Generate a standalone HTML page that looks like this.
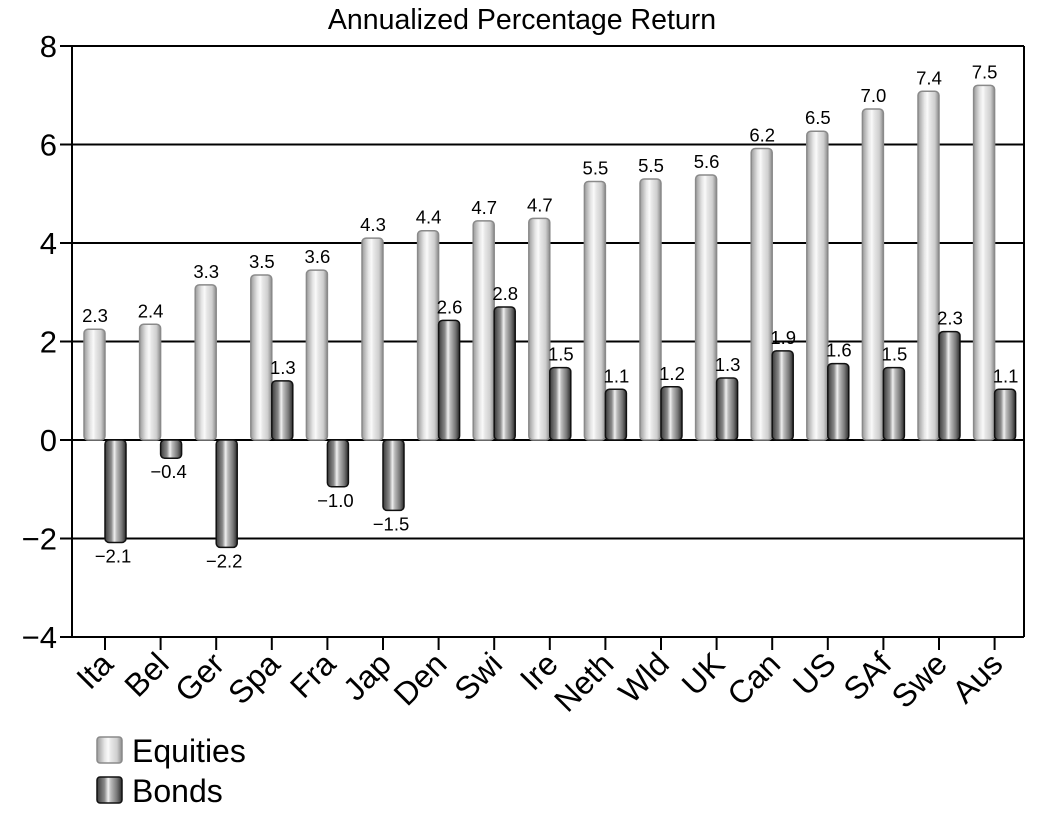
<!DOCTYPE html>
<html><head><meta charset="utf-8"><style>
html,body{margin:0;padding:0;background:#fff;}
svg{display:block;font-family:"Liberation Sans",Arial,sans-serif;}
</style></head><body>
<svg id="s" width="1037" height="838" viewBox="0 0 1037 838" xmlns="http://www.w3.org/2000/svg">
<defs>
<linearGradient id="ge" x1="0" x2="1" y1="0" y2="0">
<stop offset="0" stop-color="#9a9a9a"/><stop offset="0.3" stop-color="#e4e4e4"/><stop offset="0.45" stop-color="#fafafa"/><stop offset="0.55" stop-color="#e8e8e8"/><stop offset="0.8" stop-color="#cfcfcf"/><stop offset="1" stop-color="#8a8a8a"/>
</linearGradient>
<linearGradient id="gb" x1="0" x2="1" y1="0" y2="0">
<stop offset="0" stop-color="#3a3a3a"/><stop offset="0.3" stop-color="#8a8a8a"/><stop offset="0.45" stop-color="#f0f0f0"/><stop offset="0.55" stop-color="#bdbdbd"/><stop offset="0.8" stop-color="#777"/><stop offset="1" stop-color="#2a2a2a"/>
</linearGradient>
</defs>
<g id="g"></g>
</svg>
<script>
var g=document.getElementById('g');var h='';
var L=72,R=1024,Z=440,U=49.25;
function Y(v){return Z-v*U;}
h+='<text x="522" y="29" font-size="28.5" text-anchor="middle">Annualized Percentage Return</text>';
[8,6,4,2,0,-2,-4].forEach(function(v){var y=Y(v);
 if(v>-4) h+='<line x1="'+L+'" x2="'+R+'" y1="'+y+'" y2="'+y+'" stroke="#000" stroke-width="2"/>';
 h+='<line x1="60" x2="'+L+'" y1="'+y+'" y2="'+y+'" stroke="#000" stroke-width="2"/>';
 h+='<text x="57" y="'+(y+11)+'" font-size="31" text-anchor="end">'+(v<0?'\u2212'+(-v):v)+'</text>';});
var names=['Ita','Bel','Ger','Spa','Fra','Jap','Den','Swi','Ire','Neth','Wld','UK','Can','US','SAf','Swe','Aus'];
var eq=['2.3','2.4','3.3','3.5','3.6','4.3','4.4','4.7','4.7','5.5','5.5','5.6','6.2','6.5','7.0','7.4','7.5'];
var eh=[2.25,2.35,3.15,3.35,3.45,4.1,4.25,4.45,4.5,5.25,5.3,5.38,5.92,6.27,6.72,7.08,7.2];
var bd=['\u22122.1','\u22120.4','\u22122.2','1.3','\u22121.0','\u22121.5','2.6','2.8','1.5','1.1','1.2','1.3','1.9','1.6','1.5','2.3','1.1'];
var bh=[-2.08,-0.37,-2.18,1.2,-0.95,-1.43,2.43,2.7,1.47,1.03,1.08,1.26,1.81,1.55,1.47,2.2,1.03];
for(var i=0;i<17;i++){var c=105+55.6*i;
 var t=Y(eh[i]);
 h+='<rect x="'+(c-21)+'" y="'+t+'" width="21" height="'+(Z-t)+'" rx="4" fill="url(#ge)" stroke="#8a8a8a" stroke-width="1.5"/>';
 h+='<text x="'+(c-10)+'" y="'+(t-7)+'" font-size="18.5" text-anchor="middle">'+eq[i]+'</text>';
 var b=Y(bh[i]);var y0=Math.min(b,Z),hh=Math.abs(b-Z);
 h+='<rect x="'+c+'" y="'+y0+'" width="21" height="'+hh+'" rx="4" fill="url(#gb)" stroke="#111" stroke-width="1.5"/>';
 if(bh[i]>0) h+='<text x="'+(c+11)+'" y="'+(b-7)+'" font-size="18.5" text-anchor="middle">'+bd[i]+'</text>';
 else h+='<text x="'+(c+8)+'" y="'+(b+20)+'" font-size="18.5" text-anchor="middle">'+bd[i]+'</text>';
 h+='<line x1="'+c+'" x2="'+c+'" y1="637" y2="650" stroke="#000" stroke-width="2"/>';
 h+='<text transform="translate('+(c+10)+',666) rotate(-45)" font-size="32" text-anchor="end">'+names[i]+'</text>';
}
h+='<line x1="'+L+'" x2="'+L+'" y1="'+Y(8)+'" y2="637" stroke="#000" stroke-width="2"/>';
h+='<line x1="'+R+'" x2="'+R+'" y1="'+Y(8)+'" y2="637" stroke="#000" stroke-width="2"/>';
h+='<line x1="'+L+'" x2="'+R+'" y1="637" y2="637" stroke="#000" stroke-width="2"/>';
h+='<rect x="97" y="737" width="25" height="26" rx="3" fill="url(#ge)" stroke="#8a8a8a" stroke-width="1.5"/>';
h+='<text x="132" y="762" font-size="32">Equities</text>';
h+='<rect x="97" y="777" width="25" height="26" rx="3" fill="url(#gb)" stroke="#111" stroke-width="1.5"/>';
h+='<text x="132" y="802" font-size="32">Bonds</text>';
g.innerHTML=h;
</script>
</body></html>
